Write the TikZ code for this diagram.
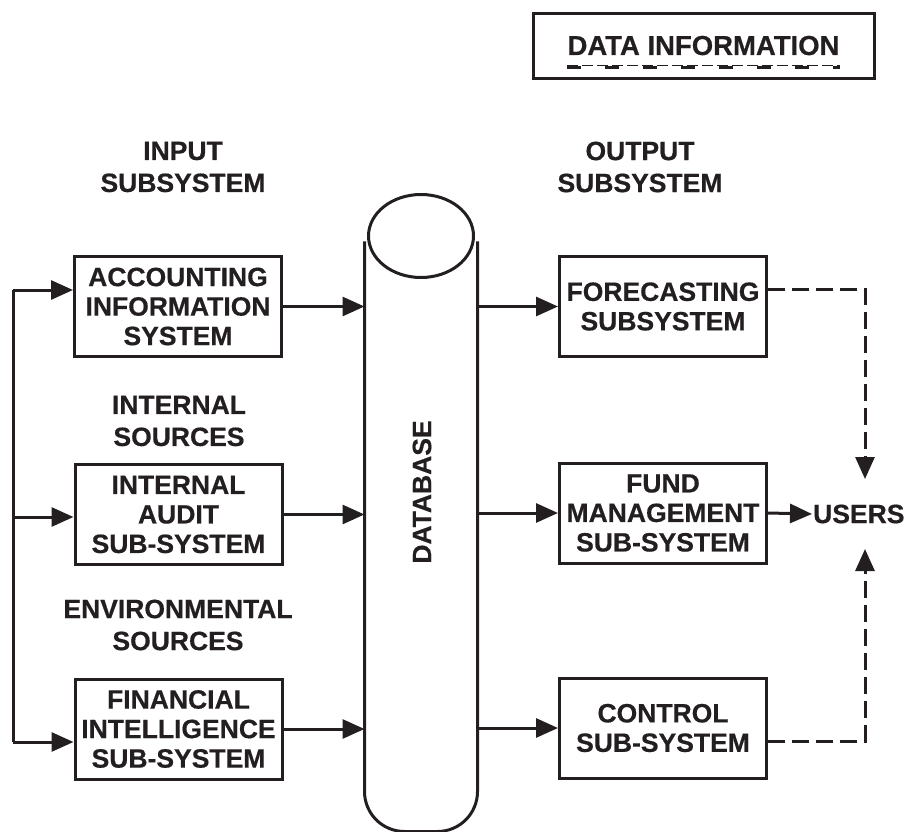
\documentclass[tikz,border=0pt]{standalone}
\usepackage{fontspec}
\setmainfont{Liberation Sans}
\newfontfamily\heavy[FakeBold=0.5]{Liberation Sans Bold}
\usetikzlibrary{arrows.meta}
\definecolor{ink}{HTML}{231F20}
\begin{document}
\begin{tikzpicture}[x=1pt,y=-1pt, color=ink,
  boxtxt/.style={font=\heavy\fontsize{26.5}{29.5}\selectfont, text=ink},
  sysbox/.style={boxtxt, draw=ink, line width=3pt, minimum width=207pt,
    minimum height=100pt, align=center, inner sep=0pt},
  lbl/.style={font=\heavy\fontsize{26.5}{32}\selectfont, text=ink, align=center, inner sep=0pt},
  tip/.tip={Triangle[length=22pt,width=19pt]},
  arr/.style={line width=3pt, -tip},
  dasharr/.style={line width=3pt, dash pattern=on 17pt off 7pt, -tip},
  link/.style={line width=3pt}
]
\useasboundingbox (0,0) rectangle (906,832);

% legend box
\node[draw=ink, line width=3pt, minimum width=341pt, minimum height=65pt, inner sep=0pt]
  (legend) at (704,46) {};
\node[font=\heavy\fontsize{27.5}{30}\selectfont, text=ink, anchor=base, inner sep=0pt]
  (legtxt) at (703.5,55) {DATA INFORMATION};
\draw[line width=1pt, dash pattern=on 11pt off 4pt]
  ([yshift=-10.5pt]legtxt.base west) -- ([yshift=-10.5pt]legtxt.base east);
\draw[line width=3pt, dash pattern=on 14pt off 24pt]
  ([yshift=-13pt]legtxt.base west) -- ([yshift=-13pt]legtxt.base east);

% column headings
\node[lbl] (inlbl)  at (183,167) {INPUT\\SUBSYSTEM};
\node[lbl] (outlbl) at (640,167) {OUTPUT\\SUBSYSTEM};
\node[lbl] (intsrc) at (179,421) {INTERNAL\\SOURCES};
\node[lbl] (envsrc) at (178,625) {ENVIRONMENTAL\\SOURCES};

% input subsystems
\node[sysbox] (acc) at (178,306.5) {ACCOUNTING\\INFORMATION\\SYSTEM};
\node[sysbox] (aud) at (178.5,514.5) {INTERNAL\\AUDIT\\SUB-SYSTEM};
\node[sysbox] (fin) at (178.5,729) {FINANCIAL\\INTELLIGENCE\\SUB-SYSTEM};

% output subsystems
\node[sysbox] (fc)  at (663,306.5) {FORECASTING\\SUBSYSTEM};
\node[sysbox] (fm)  at (663,513) {FUND\\MANAGEMENT\\SUB-SYSTEM};
\node[sysbox] (ctl) at (663,728) {CONTROL\\SUB-SYSTEM};

% database cylinder
\node[minimum width=110pt, minimum height=594pt, inner sep=0pt, outer sep=1.5pt]
  (db) at (421,533) {};
\draw[line width=3pt, rounded corners=40pt]
  ([yshift=-7pt]db.north west) -- (db.south west) -- (db.south east)
  -- ([yshift=-7pt]db.north east);
\draw[line width=3pt] (421,236) ellipse [x radius=52.5, y radius=41.5];
\node[boxtxt, rotate=90, inner sep=0pt] (dbtxt) at (422,492) {DATABASE};

% users
\node[boxtxt, inner sep=1pt, anchor=west] (users) at (812,514) {USERS};
\coordinate (uin1) at (865,479);
\coordinate (uin2) at (865,549);

% feed line on the left
\coordinate (ft) at (13,290);
\coordinate (fmid) at (13,517);
\coordinate (fb) at (13,742);
\draw[link] (ft) -- (fb);
\draw[arr] (ft) -- (ft -| acc.west);
\draw[arr] (fmid) -- (fmid -| aud.west);
\draw[arr] (fb) -- (fb -| fin.west);

% inputs into the database
\draw[arr] (acc.east) -- (acc.east -| db.west);
\draw[arr] (aud.east) -- (aud.east -| db.west);
\draw[arr] (fin.east) -- (fin.east -| db.west);

% database to outputs
\draw[arr] (fc.west -| db.east) -- (fc.west);
\draw[arr] (fm.west -| db.east) -- (fm.west);
\draw[arr] (ctl.west -| db.east) -- (ctl.west);

% outputs to users
\draw[arr] (fm.east) -- (users.west);
\draw[dasharr] ([yshift=17.5pt]fc.east) -| (uin1);
\draw[dasharr] ([yshift=-13pt]ctl.east) -| (uin2);
\end{tikzpicture}
\end{document}
